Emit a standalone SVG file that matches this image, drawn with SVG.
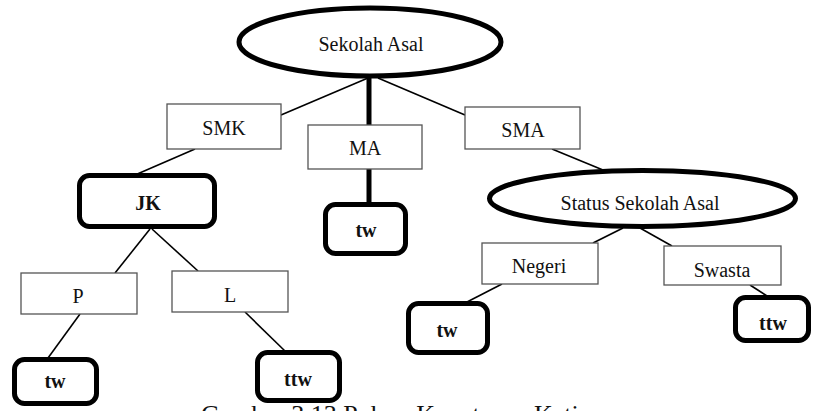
<svg xmlns="http://www.w3.org/2000/svg" width="813" height="411" viewBox="0 0 813 411">
  <style>
    text { font-family: 'Liberation Serif', 'DejaVu Serif', serif; }
    .lbl { font-size: 20px; fill: #111; text-anchor: middle; }
    .leaf { font-size: 20px; font-weight: bold; fill: #111; text-anchor: middle; }
    .val { fill: #fff; stroke: #555; stroke-width: 1.3; }
    .dec { fill: #fff; stroke: #000; stroke-width: 5; }
    .edge { stroke: #000; stroke-width: 1.6; fill: none; }
    .edge-bold { stroke: #000; stroke-width: 5; fill: none; }
    .cap { font-size: 26px; fill: #111; }
  </style>
  <rect width="813" height="411" fill="#fff"/>

  <!-- connectors -->
  <g id="connectors">
    <line class="edge" x1="368" y1="78" x2="281" y2="115"/>
    <line class="edge-bold" x1="369" y1="76" x2="369" y2="125"/>
    <line class="edge" x1="378" y1="78" x2="465" y2="115"/>
    <line class="edge" x1="195" y1="149" x2="135" y2="175"/>
    <line class="edge-bold" x1="369" y1="169" x2="369" y2="204"/>
    <line class="edge" x1="552" y1="149" x2="603" y2="170"/>
    <line class="edge" x1="150" y1="229" x2="115" y2="273"/>
    <line class="edge" x1="152" y1="229" x2="198" y2="271"/>
    <line class="edge" x1="623" y1="228" x2="593" y2="243"/>
    <line class="edge" x1="640" y1="228" x2="672" y2="246"/>
    <line class="edge" x1="80" y1="314" x2="48" y2="358"/>
    <line class="edge" x1="245" y1="312" x2="286" y2="352"/>
    <line class="edge" x1="502" y1="284" x2="467" y2="302"/>
    <line class="edge" x1="750" y1="285" x2="767" y2="296"/>
  </g>

  <!-- root decision: school of origin -->
  <g id="root">
    <ellipse class="dec" cx="370" cy="42" rx="131" ry="34"/>
    <text class="lbl" x="371" y="51" font-family="Liberation Serif, serif">Sekolah Asal</text>
  </g>

  <g id="smk">
    <rect class="val" x="167" y="104" width="114" height="45"/>
    <text class="lbl" x="224" y="135">SMK</text>
  </g>
  <g id="ma">
    <rect class="val" x="308" y="125" width="114" height="44"/>
    <text class="lbl" x="365" y="155">MA</text>
  </g>
  <g id="sma">
    <rect class="val" x="465" y="107" width="115" height="42"/>
    <text class="lbl" x="523" y="137">SMA</text>
  </g>

  <g id="jk">
    <rect class="dec" x="79.5" y="175.5" width="135" height="51" rx="10"/>
    <text class="leaf" x="148" y="210">JK</text>
  </g>
  <g id="ma-tw">
    <rect class="dec" x="325.5" y="204.5" width="80" height="49" rx="10"/>
    <text class="leaf" x="366" y="237">tw</text>
  </g>

  <g id="status">
    <ellipse class="dec" cx="642.5" cy="198.5" rx="153" ry="28"/>
    <text class="lbl" x="640" y="210">Status Sekolah Asal</text>
  </g>

  <g id="p">
    <rect class="val" x="21" y="273" width="116" height="41"/>
    <text class="lbl" x="78" y="303">P</text>
  </g>
  <g id="l">
    <rect class="val" x="172" y="271" width="116" height="41"/>
    <text class="lbl" x="230" y="302">L</text>
  </g>
  <g id="negeri">
    <rect class="val" x="482" y="243" width="116" height="41"/>
    <text class="lbl" x="539" y="273">Negeri</text>
  </g>
  <g id="swasta">
    <rect class="val" x="664" y="246" width="117" height="39"/>
    <text class="lbl" x="722" y="277">Swasta</text>
  </g>

  <g id="p-tw">
    <rect class="dec" x="14.5" y="359.5" width="82" height="44" rx="10"/>
    <text class="leaf" x="55" y="388">tw</text>
  </g>
  <g id="l-ttw">
    <rect class="dec" x="257.5" y="352.5" width="82" height="48" rx="10"/>
    <text class="leaf" x="298" y="386">ttw</text>
  </g>
  <g id="negeri-tw">
    <rect class="dec" x="408.5" y="303.5" width="79" height="49" rx="10"/>
    <text class="leaf" x="447" y="337">tw</text>
  </g>
  <g id="swasta-ttw">
    <rect class="dec" x="735.5" y="297.5" width="73" height="43" rx="10"/>
    <text class="leaf" x="773" y="330">ttw</text>
  </g>

  <text class="cap" x="201" y="423">Gambar 3.13 Pohon Keputusan Kati</text>
</svg>
